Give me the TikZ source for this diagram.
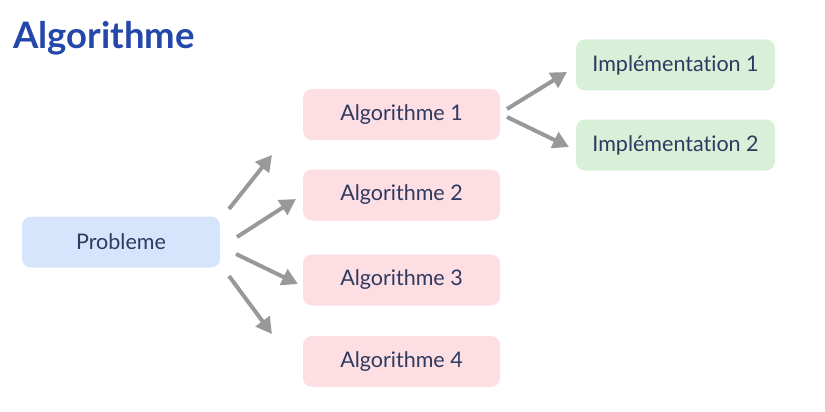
\documentclass[tikz,border=0pt]{standalone}
\usepackage{fontspec}
\setmainfont{Lato}[Ligatures={NoCommon}]
\usetikzlibrary{arrows.meta}
\definecolor{txt}{HTML}{2E3A5F}
\definecolor{ttl}{HTML}{2447AA}
\definecolor{bluebox}{HTML}{D6E4FC}
\definecolor{pinkbox}{HTML}{FDDEE3}
\definecolor{greenbox}{HTML}{D8EFD8}
\definecolor{arr}{HTML}{999999}
\tikzset{
  box/.style={rounded corners=9pt, minimum width=198pt, minimum height=51pt, inner sep=0pt, text=txt, font=\fontsize{21.5}{25}\selectfont},
  pb/.style={box, fill=bluebox},
  ab/.style={box, fill=pinkbox, minimum width=197pt},
  ib/.style={box, fill=greenbox, minimum width=199pt},
  conn/.style={draw=arr, line width=4pt, -{Triangle[length=16pt,width=17pt]}, shorten >=0pt}
}
\begin{document}
\begin{tikzpicture}[x=1pt,y=-1pt]
\useasboundingbox (0,0) rectangle (825,412);
\node[anchor=west, text=ttl, font=\fontsize{36.5}{40}\bfseries\selectfont, inner sep=0pt] (title) at (13,38) {Algorithme};
\node[pb] (p) at (121,242) {\raisebox{-1.5pt}{Probleme}};
\node[ab] (a1) at (401.5,114.5) {\raisebox{-1.5pt}{Algorithme 1}};
\node[ab] (a2) at (401.5,195) {\raisebox{-1.5pt}{Algorithme 2}};
\node[ab] (a3) at (401.5,280) {\raisebox{-1.5pt}{Algorithme 3}};
\node[ab] (a4) at (401.5,361.5) {\raisebox{-1.5pt}{Algorithme 4}};
\node[ib] (i1) at (675.5,65) {\raisebox{-1.5pt}{Implémentation 1}};
\node[ib] (i2) at (675.5,145) {\raisebox{-1.5pt}{Implémentation 2}};
\coordinate (s1) at (229,209); \coordinate (e1) at (272,155);
\coordinate (s2) at (237,237); \coordinate (e2) at (296,199);
\coordinate (s3) at (236,254); \coordinate (e3) at (298,284);
\coordinate (s4) at (229,276); \coordinate (e4) at (272,334);
\coordinate (s5) at (507,109); \coordinate (e5) at (567,72);
\coordinate (s6) at (507,117); \coordinate (e6) at (569,147);
\foreach \i in {1,...,6} {\draw[conn] (s\i) -- (e\i);}
\end{tikzpicture}
\end{document}
